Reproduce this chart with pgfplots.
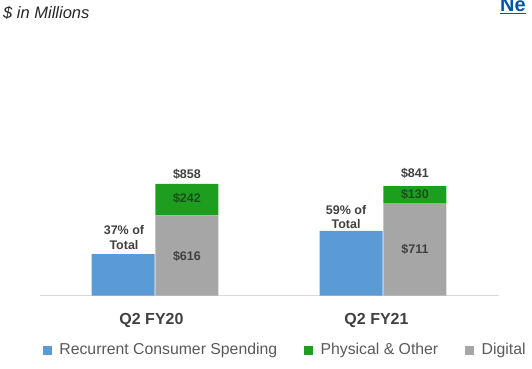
\documentclass[border=0pt]{standalone}
\usepackage{fontspec}
\setmainfont{Liberation Sans}
\usepackage{pgfplots}
\pgfplotsset{compat=1.18}
\definecolor{cblue}{RGB}{91,155,213}
\definecolor{cgreen}{RGB}{30,158,30}
\definecolor{cgray}{RGB}{166,166,166}
\definecolor{ctext}{RGB}{64,64,64}
\definecolor{cgtext}{RGB}{28,78,28}
\definecolor{cleg}{RGB}{89,89,89}
\definecolor{caxis}{RGB}{217,217,217}
\definecolor{clink}{RGB}{0,84,166}
\pgfplotsset{base/.style={scale only axis, width=532pt, height=368pt,
  xmin=-0.6798, xmax=1.6535, ymin=-557.7, ymax=2273,
  hide axis, clip=false, at={(0,0)}, anchor=south west}}
\newcommand{\lbl}{\fontsize{12.5}{14.5}\selectfont\bfseries}
\begin{document}
\begin{tikzpicture}
\useasboundingbox (0,0) rectangle (532pt,368pt);
\clip (0,0) rectangle (532pt,368pt);
\begin{axis}[base, ybar stacked, bar width=0.2763,
  legend columns=3, legend cell align=left,
  legend style={at={(axis cs:-0.4912,-419)}, anchor=west, draw=none, fill=none,
    inner sep=0pt, outer sep=0pt, font=\fontsize{15.8}{19}\selectfont, text=cleg,
    nodes={inner sep=0pt},
    /tikz/every odd column/.append style={column sep=8pt},
    /tikz/every even column/.append style={column sep=27pt}}]
\addlegendimage{legend image code/.code={\fill[cblue] (0pt,-4pt) rectangle (8pt,4pt);}}
\addlegendentry{Recurrent Consumer Spending}
\addlegendimage{legend image code/.code={\fill[cgreen] (0pt,-4pt) rectangle (8pt,4pt);}}
\addlegendentry{Physical \& Other}
\addlegendimage{legend image code/.code={\fill[cgray] (0pt,-4pt) rectangle (8pt,4pt);}}
\addlegendentry{Digital}
\addplot[fill=cgray, draw=none, forget plot] coordinates {(0.14,616) (1.14,711)};
\addplot[fill=cgreen, draw=none, forget plot] coordinates {(0.14,242) (1.14,130)};
\draw[caxis, line width=1.5pt] (axis cs:-0.5044,0) -- (axis cs:1.5088,0);
\end{axis}
\begin{axis}[base, ybar, bar width=0.2763]
\addplot[fill=cblue, draw=none, bar shift=0pt] coordinates {(-0.14,317.5) (0.86,496.2)};
\node[text=ctext, font=\lbl] at (axis cs:0.14,935) {\$858};
\node[text=cgtext, font=\lbl] at (axis cs:0.14,745) {\$242};
\node[text=ctext, font=\lbl] at (axis cs:0.14,300) {\$616};
\node[text=ctext, font=\lbl] at (axis cs:1.14,942) {\$841};
\node[text=cgtext, font=\lbl] at (axis cs:1.14,778) {\$130};
\node[text=ctext, font=\lbl] at (axis cs:1.14,355) {\$711};
\node[text=ctext, font=\lbl, align=center] at (axis cs:-0.136,444) {37\% of\\Total};
\node[text=ctext, font=\lbl, align=center] at (axis cs:0.838,604) {59\% of\\Total};
\node[text=ctext, font=\fontsize{16}{19}\selectfont\bfseries] at (axis cs:-0.0154,-188.5) {Q2 FY20};
\node[text=ctext, font=\fontsize{16}{19}\selectfont\bfseries] at (axis cs:0.9715,-188.5) {Q2 FY21};
\node[anchor=west, text=black!85, font=\fontsize{16.5}{19}\selectfont\itshape, inner sep=0pt] at (axis cs:-0.6667,2173) {\$ in Millions};
\node[anchor=base west, text=clink, font=\fontsize{20}{24}\selectfont\bfseries, inner sep=0pt] at (axis cs:1.5132,2181) {\underline{Ne}};
\end{axis}
\end{tikzpicture}
\end{document}
